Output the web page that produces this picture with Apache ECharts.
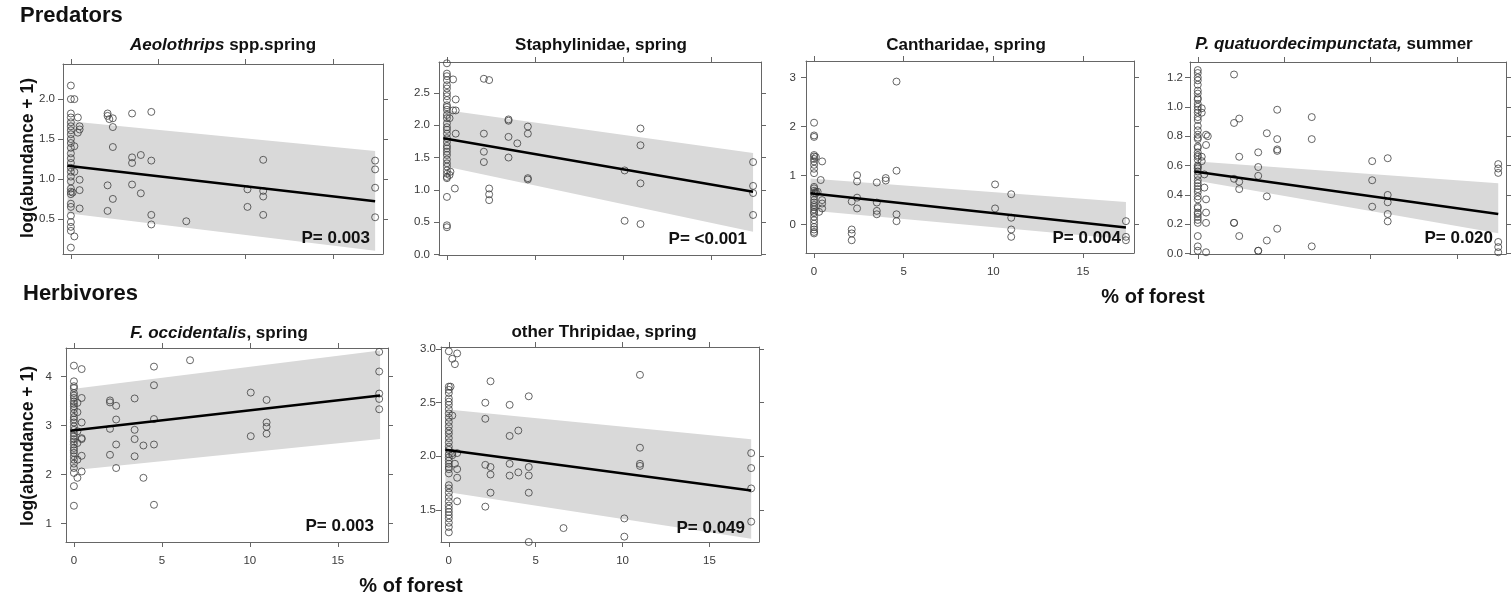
<!DOCTYPE html>
<html>
<head>
<meta charset="utf-8">
<script src="https://cdn.jsdelivr.net/npm/echarts@6/dist/echarts.min.js"></script>
<style>
  html, body { margin: 0; padding: 0; background: #fff; }
  #chart { width: 1511px; height: 601px; }
</style>
</head>
<body>
<div id="chart"></div>
<script>
const FONT = '"Liberation Sans", Arial, sans-serif';
const AXIS = '#666';
const LABEL = '#3a3a3a';

// shared x axis: % of forest
const forestMin = -0.45, forestMax = 17.85;
const forestTicks = [0, 5, 10, 15];
const fitX = [-0.2, 17.4];

// Aeolothrips spp., spring
const aeolothripsPts = [
  [0,2.17],[0,2.00],[0,1.82],[0,1.77],[0,1.71],[0,1.66],[0,1.61],[0,1.56],[0,1.50],[0,1.45],
  [0,1.39],[0,1.32],[0,1.26],[0,1.20],[0,1.14],[0,1.09],[0,1.03],[0,0.97],[0,0.88],[0,0.84],
  [0,0.81],[0,0.69],[0,0.65],[0,0.54],[0,0.46],[0,0.40],[0,0.35],[0,0.14],
  [0.2,2.00],[0.2,1.41],[0.2,1.09],[0.1,0.83],[0.2,0.28],
  [0.4,1.77],[0.5,1.66],[0.5,1.62],[0.4,1.58],[0.5,0.99],[0.5,0.86],[0.5,0.63],
  [2.1,1.82],[2.1,1.79],[2.2,1.75],[2.1,0.92],[2.1,0.60],
  [2.4,1.76],[2.4,1.65],[2.4,1.40],[2.4,0.75],
  [3.5,1.82],[3.5,1.27],[3.5,1.20],[3.5,0.93],
  [4.0,1.30],[4.0,0.82],
  [4.6,1.84],[4.6,1.23],[4.6,0.55],[4.6,0.43],
  [6.6,0.47],
  [10.1,0.87],[10.1,0.65],
  [11.0,1.24],[11.0,0.85],[11.0,0.78],[11.0,0.55],
  [17.4,1.23],[17.4,1.12],[17.4,0.89],[17.4,0.52]
];
const aeolothripsFit = [1.165, 0.72];
const aeolothripsLo = [0.57, 0.10];
const aeolothripsHi = [1.725, 1.35];
const aeolothripsTicks = [0.5, 1.0, 1.5, 2.0];

// Staphylinidae, spring
const staphPts = [
  [0,2.96],[0,2.80],[0,2.76],[0,2.70],[0,2.62],[0,2.57],[0,2.50],[0,2.45],[0,2.39],[0,2.31],
  [0,2.28],[0,2.24],[0,2.16],[0,2.11],[0,2.03],[0,1.97],[0,1.93],[0,1.87],[0,1.80],[0,1.74],
  [0,1.68],[0,1.64],[0,1.59],[0,1.54],[0,1.47],[0,1.41],[0,1.36],[0,1.30],[0,1.25],[0,1.20],
  [0,1.18],[0,0.89],[0,0.45],[0,0.42],
  [0.35,2.71],[0.5,2.40],[0.35,2.23],[0.5,2.23],[0.15,2.11],[0.5,1.87],[0.2,1.28],[0.15,1.23],[0.45,1.02],
  [2.1,2.72],[2.1,1.87],[2.1,1.59],[2.1,1.43],
  [2.4,2.70],[2.4,1.02],[2.4,0.93],[2.4,0.84],
  [3.5,2.09],[3.5,2.07],[3.5,1.82],[3.5,1.50],
  [4.0,1.72],
  [4.6,1.98],[4.6,1.87],[4.6,1.18],[4.6,1.16],
  [10.1,1.30],[10.1,0.52],
  [11.0,1.95],[11.0,1.69],[11.0,1.10],[11.0,0.47],
  [17.4,1.43],[17.4,1.06],[17.4,0.95],[17.4,0.61]
];
const staphFit = [1.80, 0.97];
const staphLo = [1.37, 0.35];
const staphHi = [2.24, 1.57];
const staphTicks = [0, 0.5, 1.0, 1.5, 2.0, 2.5];

// Cantharidae, spring
const canthPts = [
  [0,2.08],[0,1.82],[0,1.79],[0,1.42],[0,1.39],[0,1.34],[0,1.29],[0,1.22],[0,1.14],[0,1.05],
  [0,0.77],[0,0.74],[0,0.69],[0,0.64],[0,0.57],[0,0.50],[0,0.45],[0,0.40],[0,0.36],[0,0.31],
  [0,0.26],[0,0.23],[0,0.16],[0,0.09],[0,0.02],[0,-0.05],[0,-0.10],[0,-0.15],[0,-0.18],
  [0.1,1.38],[0.1,0.67],[0.1,0.64],[0.2,0.67],[0.45,1.29],[0.37,0.91],[0.45,0.50],[0.45,0.43],[0.45,0.33],[0.28,0.26],
  [2.1,0.47],[2.1,-0.10],[2.1,-0.18],[2.1,-0.32],
  [2.4,1.01],[2.4,0.88],[2.4,0.55],[2.4,0.33],
  [3.5,0.86],[3.5,0.45],[3.5,0.28],[3.5,0.21],
  [4.0,0.95],[4.0,0.90],
  [4.6,2.92],[4.6,1.10],[4.6,0.21],[4.6,0.07],
  [10.1,0.82],[10.1,0.33],
  [11.0,0.62],[11.0,0.14],[11.0,-0.10],[11.0,-0.25],
  [17.4,0.07],[17.4,-0.25],[17.4,-0.32]
];
const canthFit = [0.64, -0.06];
const canthLo = [0.29, -0.30];
const canthHi = [0.94, 0.46];
const canthTicks = [0, 1, 2, 3];

// P. quatuordecimpunctata, summer
const propyleaPts = [
  [0,1.25],[0,1.23],[0,1.20],[0,1.18],[0,1.15],[0,1.11],[0,1.09],[0,1.06],[0,1.05],[0,1.02],
  [0,1.00],[0,0.98],[0,0.96],[0,0.93],[0,0.91],[0,0.87],[0,0.84],[0,0.81],[0,0.79],[0,0.78],
  [0,0.73],[0,0.72],[0,0.69],[0,0.67],[0,0.66],[0,0.64],[0,0.60],[0,0.59],[0,0.58],[0,0.56],
  [0,0.53],[0,0.50],[0,0.48],[0,0.46],[0,0.44],[0,0.42],[0,0.39],[0,0.37],[0,0.32],[0,0.31],
  [0,0.28],[0,0.27],[0,0.25],[0,0.23],[0,0.21],[0,0.12],[0,0.05],[0,0.02],
  [0.23,0.99],[0.23,0.96],[0.23,0.66],[0.23,0.63],
  [0.48,0.81],[0.48,0.74],[0.48,0.37],[0.48,0.28],[0.48,0.21],[0.48,0.01],
  [0.38,0.54],[0.38,0.45],[0.58,0.80],
  [2.1,1.22],[2.1,0.89],[2.1,0.51],[2.1,0.21],[2.1,0.21],
  [2.4,0.92],[2.4,0.66],[2.4,0.49],[2.4,0.44],[2.4,0.12],
  [3.5,0.69],[3.5,0.59],[3.5,0.53],[3.5,0.02],[3.5,0.02],
  [4.0,0.82],[4.0,0.39],[4.0,0.09],
  [4.6,0.98],[4.6,0.78],[4.6,0.71],[4.6,0.70],[4.6,0.17],
  [6.6,0.93],[6.6,0.78],[6.6,0.05],
  [10.1,0.63],[10.1,0.50],[10.1,0.32],
  [11.0,0.65],[11.0,0.40],[11.0,0.35],[11.0,0.27],[11.0,0.22],
  [17.4,0.61],[17.4,0.58],[17.4,0.55],[17.4,0.08],[17.4,0.045],[17.4,0.01]
];
const propyleaFit = [0.56, 0.27];
const propyleaLo = [0.50, 0.14];
const propyleaHi = [0.63, 0.48];
const propyleaTicks = [0, 0.2, 0.4, 0.6, 0.8, 1.0, 1.2];

// F. occidentalis, spring
const frankPts = [
  [0,4.22],[0,3.90],[0,3.80],[0,3.76],[0,3.66],[0,3.61],[0,3.56],[0,3.49],[0,3.44],[0,3.39],
  [0,3.33],[0,3.25],[0,3.17],[0,3.12],[0,3.06],[0,2.98],[0,2.91],[0,2.84],[0,2.78],[0,2.72],
  [0,2.67],[0,2.61],[0,2.54],[0,2.49],[0,2.44],[0,2.37],[0,2.30],[0,2.22],[0,2.13],[0,2.03],
  [0,1.76],[0,1.36],
  [0.2,3.46],[0.2,3.27],[0.2,2.88],[0.2,2.64],[0.2,2.30],[0.2,1.93],
  [0.44,4.15],[0.44,3.56],[0.44,3.06],[0.44,2.74],[0.44,2.72],[0.44,2.38],[0.44,2.06],
  [2.05,3.51],[2.05,3.47],[2.05,2.93],[2.05,2.40],
  [2.4,3.40],[2.4,3.12],[2.4,2.61],[2.4,2.13],
  [3.45,3.55],[3.45,2.91],[3.45,2.72],[3.45,2.37],
  [3.95,2.59],[3.95,1.93],
  [4.55,4.20],[4.55,3.82],[4.55,3.13],[4.55,2.61],[4.55,1.38],
  [6.6,4.33],
  [10.05,3.67],[10.05,2.78],
  [10.95,3.52],[10.95,3.06],[10.95,2.97],[10.95,2.83],
  [17.35,4.50],[17.35,4.10],[17.35,3.65],[17.35,3.54],[17.35,3.33]
];
const frankFit = [2.89, 3.61];
const frankLo = [2.08, 2.72];
const frankHi = [3.74, 4.53];
const frankTicks = [1, 2, 3, 4];

// other Thripidae, spring
const thripPts = [
  [0,2.98],[0,2.65],[0,2.62],[0,2.59],[0,2.54],[0,2.51],[0,2.48],[0,2.44],[0,2.40],[0,2.36],
  [0,2.32],[0,2.28],[0,2.24],[0,2.21],[0,2.17],[0,2.13],[0,2.09],[0,2.06],[0,2.02],[0,1.99],
  [0,1.96],[0,1.93],[0,1.90],[0,1.88],[0,1.84],[0,1.73],[0,1.70],[0,1.66],[0,1.62],[0,1.58],
  [0,1.54],[0,1.51],[0,1.48],[0,1.45],[0,1.42],[0,1.38],[0,1.34],[0,1.29],
  [0.2,2.91],[0.2,2.38],[0.2,2.03],[0.2,2.01],[0.35,2.86],[0.35,1.93],
  [0.48,2.96],[0.48,2.03],[0.48,1.88],[0.48,1.80],[0.48,1.58],[0.1,2.65],
  [2.1,2.50],[2.1,2.35],[2.1,1.92],[2.1,1.53],
  [2.4,2.70],[2.4,1.90],[2.4,1.83],[2.4,1.66],
  [3.5,2.48],[3.5,2.19],[3.5,1.93],[3.5,1.82],
  [4.0,2.24],[4.0,1.85],
  [4.6,2.56],[4.6,1.90],[4.6,1.82],[4.6,1.66],[4.6,1.20],
  [6.6,1.33],
  [10.1,1.42],[10.1,1.25],
  [11.0,2.76],[11.0,2.08],[11.0,1.93],[11.0,1.91],
  [17.4,2.03],[17.4,1.89],[17.4,1.70],[17.4,1.39]
];
const thripFit = [2.06, 1.68];
const thripLo = [1.67, 1.23];
const thripHi = [2.44, 2.16];
const thripTicks = [1.5, 2.0, 2.5, 3.0];

const panels = [
  { box: [63, 64, 320, 190], y: [0.06, 2.44], ticks: aeolothripsTicks, dec: 1, pts: aeolothripsPts,
    fit: aeolothripsFit, lo: aeolothripsLo, hi: aeolothripsHi, xLabels: false, yMargin: 8,
    title: '{i|Aeolothrips}{n| spp.spring}', titleAt: [223, 45], p: 'P= 0.003', pAt: [370, 238] },
  { box: [439, 62, 322, 193], y: [-0.01, 2.98], ticks: staphTicks, dec: 1, pts: staphPts,
    fit: staphFit, lo: staphLo, hi: staphHi, xLabels: false, yMargin: 9,
    title: '{n|Staphylinidae, spring}', titleAt: [601, 45], p: 'P= <0.001', pAt: [747, 239] },
  { box: [806, 61, 328, 192], y: [-0.58, 3.34], ticks: canthTicks, dec: 0, pts: canthPts,
    fit: canthFit, lo: canthLo, hi: canthHi, xLabels: true, yMargin: 10,
    title: '{n|Cantharidae, spring}', titleAt: [966, 45], p: 'P= 0.004', pAt: [1121, 238] },
  { box: [1190, 62, 316, 192], y: [-0.002, 1.305], ticks: propyleaTicks, dec: 1, pts: propyleaPts,
    fit: propyleaFit, lo: propyleaLo, hi: propyleaHi, xLabels: false, yMargin: 7,
    title: '{i|P. quatuordecimpunctata,}{n| summer}', titleAt: [1334, 44], p: 'P= 0.020', pAt: [1493, 238] },
  { box: [66, 348, 322, 194], y: [0.62, 4.58], ticks: frankTicks, dec: 0, pts: frankPts,
    fit: frankFit, lo: frankLo, hi: frankHi, xLabels: true, yMargin: 14,
    title: '{i|F. occidentalis}{n|, spring}', titleAt: [219, 333], p: 'P= 0.003', pAt: [374, 526] },
  { box: [441, 347, 318, 195], y: [1.2, 3.02], ticks: thripTicks, dec: 1, pts: thripPts,
    fit: thripFit, lo: thripLo, hi: thripHi, xLabels: true, yMargin: 5,
    title: '{n|other Thripidae, spring}', titleAt: [604, 332], p: 'P= 0.049', pAt: [745, 528] }
];

const grid = [], xAxis = [], yAxis = [], series = [], graphic = [];

function text(str, x, y, size, opts) {
  return Object.assign({
    type: 'text', x: x, y: y, z: 100, silent: true,
    style: {
      text: str, fill: '#111', fontSize: size, fontWeight: 'bold', fontFamily: FONT,
      align: 'center', textAlign: 'center', verticalAlign: 'middle', textVerticalAlign: 'middle'
    }
  }, opts || {});
}

panels.forEach((p, i) => {
  grid.push({ left: p.box[0], top: p.box[1], width: p.box[2], height: p.box[3] });

  ['bottom', 'top'].forEach(pos => xAxis.push({
    gridIndex: i, type: 'value', position: pos, min: forestMin, max: forestMax,
    axisLine: { show: true, onZero: false, lineStyle: { color: AXIS, width: 1 } },
    axisTick: { show: true, inside: false, length: 5, customValues: forestTicks, lineStyle: { color: AXIS } },
    axisLabel: { show: pos === 'bottom' && p.xLabels, customValues: forestTicks, margin: 13,
      color: LABEL, fontSize: 11.5, fontFamily: FONT },
    splitLine: { show: false }
  }));

  ['left', 'right'].forEach(pos => yAxis.push({
    gridIndex: i, type: 'value', position: pos, min: p.y[0], max: p.y[1],
    axisLine: { show: true, onZero: false, lineStyle: { color: AXIS, width: 1 } },
    axisTick: { show: true, inside: false, length: 5, customValues: p.ticks, lineStyle: { color: AXIS } },
    axisLabel: { show: pos === 'left', customValues: p.ticks, margin: p.yMargin,
      color: LABEL, fontSize: 11.5, fontFamily: FONT, formatter: v => v.toFixed(p.dec) },
    splitLine: { show: false }
  }));

  const xi = 2 * i, yi = 2 * i;

  series.push({
    type: 'custom', xAxisIndex: xi, yAxisIndex: yi, clip: true, silent: true, z: 1,
    data: fitX.map((x, k) => [x, p.lo[k], p.hi[k]]),
    encode: { x: 0, y: [1, 2] },
    renderItem: (params, api) => {
      if (params.dataIndex !== 0) return null;
      const upper = fitX.map((x, k) => api.coord([x, p.hi[k]]));
      const lower = fitX.map((x, k) => api.coord([x, p.lo[k]])).reverse();
      return { type: 'polygon', shape: { points: upper.concat(lower) }, style: { fill: '#d9d9d9' } };
    }
  });

  series.push({
    type: 'scatter', xAxisIndex: xi, yAxisIndex: yi, silent: true, z: 3,
    data: p.pts, symbol: 'circle', symbolSize: 7,
    itemStyle: { color: 'rgba(255,255,255,0)', borderColor: '#404040', borderWidth: 1 }
  });

  series.push({
    type: 'line', xAxisIndex: xi, yAxisIndex: yi, silent: true, z: 4,
    data: fitX.map((x, k) => [x, p.fit[k]]), symbol: 'none',
    lineStyle: { color: '#000', width: 2.5 }
  });

  graphic.push({
    type: 'text', x: p.titleAt[0], y: p.titleAt[1], z: 100, silent: true,
    style: {
      text: p.title, fill: '#111', align: 'center', textAlign: 'center',
      verticalAlign: 'middle', textVerticalAlign: 'middle',
      fontSize: 17, fontWeight: 'bold', fontFamily: FONT,
      rich: {
        i: { fontStyle: 'italic', fontWeight: 'bold', fontSize: 17, fontFamily: FONT, fill: '#111' },
        n: { fontStyle: 'normal', fontWeight: 'bold', fontSize: 17, fontFamily: FONT, fill: '#111' }
      }
    }
  });

  const pt = text(p.p, p.pAt[0], p.pAt[1], 17);
  pt.style.align = 'right';
  pt.style.textAlign = 'right';
  graphic.push(pt);
});

const left = (t, x, y, size) => {
  const g = text(t, x, y, size);
  g.style.align = 'left';
  g.style.textAlign = 'left';
  return g;
};
graphic.push(left('Predators', 20, 16, 22));
graphic.push(left('Herbivores', 23, 294, 22));
graphic.push(text('% of forest', 1153, 297, 20));
graphic.push(text('% of forest', 411, 586, 20));
graphic.push(text('log(abundance + 1)', 28, 158, 17.5, { rotation: Math.PI / 2 }));
graphic.push(text('log(abundance + 1)', 28, 446, 17.5, { rotation: Math.PI / 2 }));

const chart = echarts.init(document.getElementById('chart'), null, { renderer: 'canvas' });
chart.setOption({
  animation: false,
  backgroundColor: '#fff',
  grid: grid,
  xAxis: xAxis,
  yAxis: yAxis,
  series: series,
  graphic: graphic
});
</script>
</body>
</html>
